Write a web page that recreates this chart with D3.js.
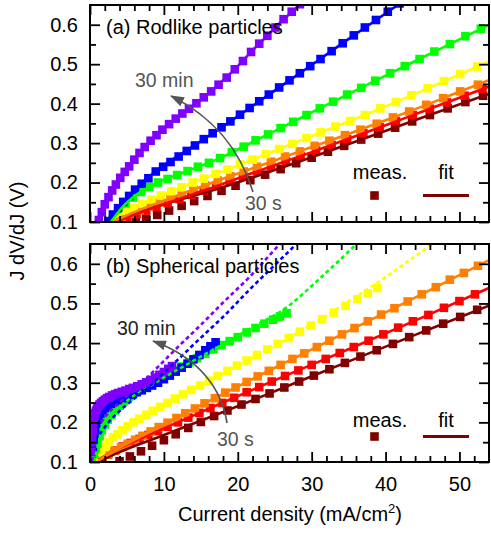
<!DOCTYPE html>
<html><head><meta charset="utf-8">
<script src="https://cdn.jsdelivr.net/npm/d3@7"></script>
<style>body{margin:0;background:#fff;} svg text{font-family:"Liberation Sans",Arial,Helvetica,sans-serif;}</style>
</head><body>
<script>
// ---------------- DATA ----------------
const seriesKeys = ["30 s","s2","s3","s4","s5","s6","30 min"];
const seriesColors = ["#800000","#ff0000","#ff8000","#ffff00","#00ff00","#0000ff","#8000ff"];
const xMajor = [0,10,20,30,40,50];
const xMinor = [2,4,6,8,12,14,16,18,22,24,26,28,32,34,36,38,42,44,46,48,52];
const yMajor = [0.1,0.2,0.3,0.4,0.5,0.6];
const yMinor = [0.15,0.25,0.35,0.45,0.55];
const xDomain = [0,54];
const yDomain = [0.1,0.65];
const panelLabels = ["(a) Rodlike particles","(b) Spherical particles"];
const legendLabels = ["meas.","fit"];
const arrowLabels = ["30 min","30 s"];

// (a) Rodlike: measured points (J in mA/cm2, J dV/dJ in V)
const rodMeasJ = [
 [6.2,7.6,9.1,10.7,12.4,14.1,15.9,17.8,19.7,21.7,23.7,25.8,27.9,30.0,32.2,34.4,36.7,39.0,41.3,43.6,46.0,48.4,50.8,53.2],
 [3.8,5.0,6.3,7.6,9.0,10.5,12.1,13.7,15.4,17.1,18.9,20.7,22.6,24.5,26.5,28.5,30.6,32.7,34.8,37.0,39.2,41.4,43.7,46.0,48.3,50.7,53.1],
 [3.2,4.3,5.5,6.7,8.0,9.4,10.9,12.4,14.0,15.6,17.3,19.0,20.8,22.6,24.5,26.4,28.4,30.4,32.4,34.5,36.6,38.8,41.0,43.2,45.5,47.8,50.1,52.5],
 [2.7,3.7,4.8,5.9,7.1,8.3,9.6,11.0,12.4,13.9,15.4,17.0,18.6,20.3,22.0,23.8,25.6,27.4,29.3,31.2,33.2,35.2,37.2,39.3,41.4,43.5,45.7,47.9,50.1,52.4],
 [3.0,3.8,4.8,5.8,6.9,8.0,9.2,10.5,11.8,13.2,14.6,16.1,17.6,19.2,20.8,22.4,24.1,25.8,27.5,29.3,31.1,32.9,34.8,36.7,38.6,40.6,42.6,44.6,46.6,48.7,50.8,52.9],
 [2.5,3.1,3.8,4.5,5.3,6.1,7.0,7.9,8.9,9.9,10.9,12.0,13.1,14.2,15.4,16.6,17.8,19.0,20.3,21.6,22.9,24.2,25.6,27.0,28.4,29.8,31.2,32.7,34.2,35.7,37.2,38.7,40.3,41.9],
 [1.2,1.6,2.0,2.5,3.0,3.5,4.1,4.7,5.3,6.0,6.7,7.4,8.2,9.0,9.8,10.7,11.6,12.5,13.4,14.4,15.4,16.4,17.4,18.5,19.6,20.7,21.8,22.9,24.0,25.1,26.2,27.3,28.4]
];
const rodMeasV = [
 [0.100,0.108,0.118,0.129,0.141,0.153,0.166,0.179,0.192,0.206,0.220,0.234,0.249,0.263,0.278,0.293,0.309,0.324,0.339,0.355,0.371,0.388,0.404,0.420],
 [0.102,0.111,0.120,0.129,0.138,0.148,0.158,0.169,0.180,0.191,0.203,0.215,0.228,0.241,0.254,0.267,0.281,0.295,0.310,0.325,0.340,0.355,0.371,0.387,0.403,0.420,0.437],
 [0.102,0.111,0.121,0.130,0.140,0.150,0.160,0.171,0.182,0.193,0.205,0.216,0.228,0.240,0.253,0.266,0.279,0.293,0.306,0.320,0.334,0.349,0.365,0.380,0.397,0.414,0.431,0.448],
 [0.102,0.113,0.126,0.136,0.146,0.157,0.167,0.178,0.188,0.200,0.210,0.222,0.233,0.246,0.258,0.272,0.285,0.298,0.313,0.327,0.342,0.356,0.371,0.388,0.404,0.421,0.439,0.457,0.475,0.494],
 [0.105,0.125,0.147,0.162,0.176,0.189,0.200,0.209,0.219,0.229,0.240,0.250,0.262,0.277,0.291,0.307,0.322,0.338,0.354,0.371,0.388,0.405,0.423,0.440,0.458,0.477,0.495,0.513,0.532,0.551,0.571,0.590],
 [0.102,0.119,0.135,0.151,0.166,0.182,0.197,0.211,0.228,0.240,0.252,0.266,0.280,0.294,0.310,0.325,0.340,0.355,0.372,0.389,0.406,0.423,0.441,0.459,0.477,0.495,0.513,0.533,0.553,0.573,0.593,0.612,0.633,0.654],
 [0.105,0.125,0.145,0.163,0.180,0.195,0.212,0.227,0.241,0.258,0.275,0.290,0.306,0.320,0.334,0.348,0.362,0.375,0.387,0.401,0.416,0.431,0.448,0.466,0.487,0.508,0.531,0.552,0.572,0.593,0.614,0.633,0.652]
];
// (a) Rodlike: fit curves
const rodFitJ = [
 [2.4,10,17.6,26,35.7,45,54.5],
 [3.5,6,10,14,17.6,22,26,30,35.7,40,45,50,54.5],
 [3,6,10,14,17.6,22,26,30,35.7,40,45,50,54.5],
 [2.5,5,8.7,13,17.6,22,26,30,35.7,40,45,50,54.5],
 [2.8,4,6,8.7,13,17.6,21.6,26,30,35.7,40,45,50,54.5],
 [2.4,4,6.5,9,13.2,17.6,22,25,30,35.7,41.5,43],
 [1.1,2,3,4.2,6,8.1,10,12,14,16,17.6,20,22,24,26,28.4,29.5]
];
const rodFitV = [
 [0.1,0.145,0.186,0.238,0.302,0.365,0.428],
 [0.1,0.118,0.145,0.171,0.194,0.224,0.251,0.277,0.316,0.345,0.38,0.415,0.447],
 [0.1,0.125,0.154,0.182,0.207,0.236,0.263,0.29,0.328,0.358,0.393,0.43,0.463],
 [0.1,0.128,0.16,0.193,0.226,0.258,0.288,0.318,0.36,0.393,0.433,0.474,0.511],
 [0.1,0.13,0.165,0.196,0.228,0.262,0.299,0.34,0.378,0.431,0.471,0.517,0.563,0.604],
 [0.1,0.14,0.19,0.23,0.283,0.337,0.394,0.433,0.498,0.573,0.648,0.668],
 [0.1,0.145,0.18,0.215,0.258,0.305,0.337,0.368,0.395,0.425,0.452,0.495,0.535,0.572,0.61,0.65,0.668]
];
const rodFitDashed = [false,false,false,false,false,false,false];

// (b) Spherical: measured points
const sphMeasJ = [
 [4.0,5.4,6.9,8.4,10.0,11.6,13.3,15.0,16.8,18.6,20.5,22.4,24.3,26.3,28.3,30.3,32.4,34.5,36.6,38.8,41.0,43.2,45.5,47.8,50.1,52.4],
 [1.5,2.4,3.4,4.4,5.5,6.7,7.9,9.2,10.5,11.9,13.3,14.8,16.3,17.9,19.5,21.2,22.9,24.6,26.4,28.2,30.0,31.9,33.8,35.7,37.7,39.7,41.7,43.7,45.8,47.9,50.0,52.1],
 [1.0,1.7,2.5,3.3,4.2,5.1,6.1,7.1,8.2,9.3,10.5,11.7,12.9,14.2,15.5,16.9,18.3,19.7,21.2,22.7,24.2,25.8,27.4,29.0,30.7,32.4,34.1,35.8,37.6,39.4,41.2,43.0,44.9,46.8,48.7,50.6,52.5],
 [0.8,1.1,1.5,2.0,2.5,3.1,3.7,4.4,5.1,5.9,6.7,7.6,8.5,9.5,10.5,11.5,12.6,13.7,14.9,16.1,17.3,18.6,19.9,21.2,22.6,24.0,25.4,26.9,28.4,29.9,31.4,33.0,34.6,36.2,37.6,38.9],
 [0.6,0.8,1.0,1.3,1.6,2.0,2.4,2.9,3.4,4.0,4.6,5.3,6.0,6.8,7.6,8.5,9.4,10.4,11.4,12.4,13.4,14.5,15.6,16.7,17.8,18.9,20.0,21.2,22.4,23.6,24.8,25.7,26.6],
 [0.3,0.4,0.5,0.6,0.7,0.85,1.0,1.2,1.4,1.7,2.0,2.4,2.8,3.3,3.8,4.4,5.0,5.6,6.3,7.0,7.7,8.4,9.2,10.0,10.8,11.6,12.4,13.2,14.0,14.8,15.6,16.3,17.0],
 [0.15,0.2,0.25,0.3,0.35,0.4,0.5,0.6,0.7,0.8,0.95,1.1,1.3,1.5,1.75,2.0,2.3,2.6,3.0,3.4,3.8,4.3,4.8,5.3,5.8,6.4,7.0,7.6,8.2,8.8,9.4,10.0,10.6,11.1]
];
const sphMeasV = [
 [0.102,0.114,0.127,0.141,0.155,0.170,0.186,0.201,0.216,0.230,0.245,0.259,0.273,0.288,0.303,0.318,0.334,0.350,0.366,0.382,0.398,0.415,0.432,0.449,0.466,0.484],
 [0.110,0.119,0.129,0.139,0.148,0.158,0.168,0.178,0.189,0.200,0.212,0.224,0.236,0.249,0.262,0.276,0.289,0.303,0.317,0.331,0.345,0.360,0.375,0.390,0.406,0.422,0.439,0.455,0.471,0.489,0.506,0.523],
 [0.103,0.111,0.120,0.128,0.137,0.146,0.156,0.166,0.177,0.188,0.199,0.211,0.223,0.235,0.248,0.261,0.275,0.288,0.302,0.316,0.330,0.345,0.360,0.374,0.390,0.406,0.422,0.438,0.455,0.472,0.488,0.505,0.523,0.541,0.560,0.577,0.595],
 [0.103,0.113,0.125,0.138,0.150,0.162,0.170,0.180,0.190,0.200,0.209,0.219,0.229,0.239,0.249,0.260,0.271,0.282,0.293,0.305,0.317,0.330,0.343,0.356,0.370,0.384,0.398,0.413,0.429,0.444,0.460,0.477,0.494,0.511,0.525,0.539],
 [0.110,0.130,0.146,0.165,0.180,0.195,0.207,0.219,0.230,0.242,0.253,0.265,0.275,0.286,0.295,0.305,0.314,0.323,0.332,0.341,0.351,0.362,0.373,0.384,0.395,0.405,0.415,0.427,0.438,0.449,0.459,0.467,0.475],
 [0.100,0.130,0.155,0.172,0.185,0.198,0.207,0.215,0.222,0.230,0.236,0.242,0.247,0.252,0.256,0.261,0.266,0.270,0.276,0.281,0.287,0.293,0.300,0.309,0.318,0.328,0.338,0.348,0.359,0.370,0.382,0.392,0.402],
 [0.100,0.125,0.150,0.170,0.186,0.197,0.208,0.216,0.223,0.229,0.235,0.240,0.245,0.249,0.253,0.257,0.261,0.264,0.268,0.271,0.274,0.277,0.280,0.284,0.287,0.291,0.296,0.301,0.307,0.313,0.320,0.327,0.335,0.342]
];
// (b) Spherical: fit curves
const sphFitJ = [
 [1.1,4,10,17.6,26,35.7,45,54.5],
 [1,4,8.7,17.6,26,35.7,45,54.5],
 [0.8,3,8.7,17.6,26,35.7,45,54.5],
 [0.7,1.5,3,5,8.7,13,17.6,22,26.6,32,35.7,38.8,42,44.7,48.5],
 [0.6,1.2,2,4,8,13,17.6,22,26.6,31.1,35.4,37],
 [1.3,2.5,4.2,6,8,10,12,14,16,18,21.6,25,28.2,29.5],
 [1.5,2.4,4,6.5,9.2,12,15,18,21.6,25.7,27]
];
const sphFitV = [
 [0.1,0.125,0.168,0.223,0.286,0.359,0.428,0.498],
 [0.105,0.135,0.174,0.247,0.314,0.39,0.465,0.543],
 [0.1,0.125,0.182,0.268,0.347,0.437,0.524,0.614],
 [0.1,0.125,0.158,0.187,0.229,0.274,0.319,0.363,0.41,0.47,0.514,0.551,0.593,0.628,0.68],
 [0.1,0.15,0.18,0.235,0.29,0.345,0.393,0.44,0.49,0.563,0.638,0.667],
 [0.17,0.2,0.232,0.26,0.29,0.325,0.36,0.396,0.431,0.466,0.535,0.597,0.655,0.68],
 [0.2,0.222,0.25,0.29,0.34,0.392,0.446,0.502,0.567,0.65,0.675]
];
const sphFitDashed = [false,false,false,true,true,true,true];

// ---------------- DRAW ----------------
const W = 491, H = 534;
const FONT = '"Liberation Sans", Arial, Helvetica, sans-serif';
const MS = 8.6; // marker size
const svg = d3.select("body").append("svg").attr("width", W).attr("height", H);
const defs = svg.append("defs");
const x = d3.scaleLinear().domain(xDomain).range([90, 489]);

defs.append("marker").attr("id","ah").attr("markerUnits","userSpaceOnUse")
  .attr("viewBox","0 0 14 10").attr("markerWidth",14).attr("markerHeight",10)
  .attr("refX",13).attr("refY",5).attr("orient","auto")
  .append("path").attr("d","M0,0 L14,5 L0,10 z").attr("fill","#555");

const panels = [
  {top:5, bottom:222, mJ:rodMeasJ, mV:rodMeasV, fJ:rodFitJ, fV:rodFitV, dash:rodFitDashed,
   label:panelLabels[0], xLabels:false,
   minText:{x:135,y:87,fill:"#555"}, sText:{x:245,y:210},
   arrow:"M253,192 C240,150 215,118 171,96", legY:179, legMarkY:195.5},
  {top:244, bottom:462, mJ:sphMeasJ, mV:sphMeasV, fJ:sphFitJ, fV:sphFitV, dash:sphFitDashed,
   label:panelLabels[1], xLabels:true,
   minText:{x:117,y:335,fill:"#222"}, sText:{x:217,y:446},
   arrow:"M227,423 C222,390 200,358 153,341", legY:427, legMarkY:436.5}
];

panels.forEach((p, pi) => {
  const y = d3.scaleLinear().domain(yDomain).range([p.bottom, p.top]);
  const g = svg.append("g");
  const cid = "clip" + pi;
  defs.append("clipPath").attr("id", cid).append("rect")
    .attr("x", 90).attr("y", p.top).attr("width", 399).attr("height", p.bottom - p.top);
  const plot = g.append("g").attr("clip-path", `url(#${cid})`);

  // markers
  seriesColors.forEach((c, i) => {
    const pts = p.mJ[i].map((j, k) => [j, p.mV[i][k]]);
    plot.append("g").selectAll("rect").data(pts).join("rect")
      .attr("x", d => x(d[0]) - MS/2).attr("y", d => y(d[1]) - MS/2)
      .attr("width", MS).attr("height", MS).attr("fill", c);
  });
  // fits
  const line = d3.line().x(d => x(d[0])).y(d => y(d[1])).curve(d3.curveMonotoneX);
  seriesColors.forEach((c, i) => {
    const pts = p.fJ[i].map((j, k) => [j, p.fV[i][k]]);
    plot.append("path").datum(pts).attr("d", line).attr("fill","none")
      .attr("stroke", c).attr("stroke-width", 2.6)
      .attr("stroke-dasharray", p.dash[i] ? "4,3" : null);
  });

  // axes
  const styleAxis = sel => {
    sel.select(".domain").remove();
    sel.selectAll(".tick line").attr("stroke","#000").attr("stroke-width",1.8);
    sel.attr("font-size",20).attr("font-family",FONT);
    sel.selectAll("text").attr("fill","#000");
  };
  g.append("g").attr("transform","translate(90,0)")
    .call(d3.axisLeft(y).tickValues(yMajor).tickSize(-10).tickPadding(12).tickFormat(d3.format(".1f"))).call(styleAxis);
  g.append("g").attr("transform","translate(90,0)")
    .call(d3.axisLeft(y).tickValues(yMinor).tickSize(-6).tickFormat("")).call(styleAxis);
  g.append("g").attr("transform","translate(489,0)")
    .call(d3.axisRight(y).tickValues(yMajor).tickSize(-10).tickFormat("")).call(styleAxis);
  g.append("g").attr("transform","translate(489,0)")
    .call(d3.axisRight(y).tickValues(yMinor).tickSize(-6).tickFormat("")).call(styleAxis);
  g.append("g").attr("transform",`translate(0,${p.bottom})`)
    .call(d3.axisBottom(x).tickValues(xMajor).tickSize(-10).tickPadding(15)
      .tickFormat(p.xLabels ? d3.format("d") : "")).call(styleAxis);
  g.append("g").attr("transform",`translate(0,${p.bottom})`)
    .call(d3.axisBottom(x).tickValues(xMinor).tickSize(-6).tickFormat("")).call(styleAxis);
  g.append("g").attr("transform",`translate(0,${p.top})`)
    .call(d3.axisTop(x).tickValues(xMajor).tickSize(-10).tickFormat("")).call(styleAxis);
  g.append("g").attr("transform",`translate(0,${p.top})`)
    .call(d3.axisTop(x).tickValues(xMinor).tickSize(-6).tickFormat("")).call(styleAxis);

  g.append("rect").attr("x",90).attr("y",p.top).attr("width",399).attr("height",p.bottom-p.top)
    .attr("fill","none").attr("stroke","#000").attr("stroke-width",2);

  // panel label
  g.append("text").attr("x",106).attr("y",p.top+28.5).attr("font-size",20).attr("fill","#000").text(p.label);

  // arrow + labels
  g.append("path").attr("d",p.arrow).attr("fill","none").attr("stroke","#555")
    .attr("stroke-width",1.7).attr("marker-end","url(#ah)");
  g.append("text").attr("x",p.minText.x).attr("y",p.minText.y).attr("font-size",19.5)
    .attr("fill",p.minText.fill).text(arrowLabels[0]);
  g.append("text").attr("x",p.sText.x).attr("y",p.sText.y).attr("font-size",19.5)
    .attr("fill","#555").text(arrowLabels[1]);

  // legend
  g.append("text").attr("x",380).attr("y",p.legY).attr("text-anchor","middle").attr("font-size",20)
    .attr("fill","#000").text(legendLabels[0]);
  g.append("text").attr("x",446).attr("y",p.legY).attr("text-anchor","middle").attr("font-size",20)
    .attr("fill","#000").text(legendLabels[1]);
  g.append("rect").attr("x",374.5-MS/2).attr("y",p.legMarkY-MS/2).attr("width",MS).attr("height",MS)
    .attr("fill",seriesColors[0]);
  g.append("line").attr("x1",423).attr("x2",469).attr("y1",p.legMarkY).attr("y2",p.legMarkY)
    .attr("stroke",seriesColors[0]).attr("stroke-width",2.8);
});

// axis titles
const xt = svg.append("text").attr("x",290).attr("y",521).attr("text-anchor","middle")
  .attr("font-size",20).attr("fill","#000");
xt.append("tspan").text("Current density (mA/cm");
xt.append("tspan").attr("font-size",13).attr("dy",-8).text("2");
xt.append("tspan").attr("dy",8).text(")");

svg.append("text").attr("transform","translate(24,231) rotate(-90)").attr("text-anchor","middle")
  .attr("font-size",20).attr("fill","#000").text("J dV/dJ (V)");
</script>
</body></html>
